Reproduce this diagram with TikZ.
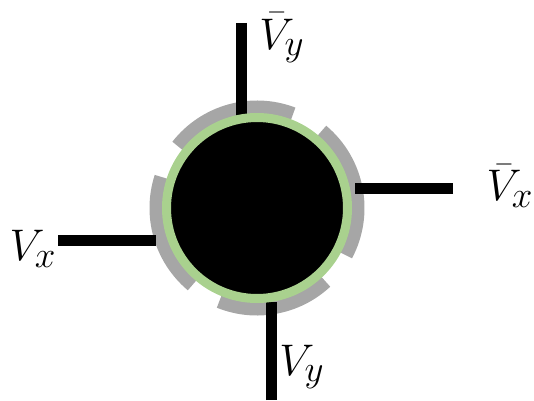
\documentclass[tikz,border=0pt]{standalone}
\usepackage{amsmath}
\usepackage{graphicx}
\usetikzlibrary{calc}
\newcommand{\biglbl}[1]{\scalebox{1.78}{\Huge$#1$}}
\begin{document}
\begin{tikzpicture}[x=1pt,y=1pt,
  lbl/.style={inner sep=0pt},
  wire/.style={line width=11pt, black},
  shell/.style={line width=13pt, draw=gray!70}]
\useasboundingbox (0,0) rectangle (534,400);
\coordinate (c) at (257,192);
% gray shell segments
\draw[shell] ($(c)+(69:101)$) arc[start angle=69, end angle=142, radius=101];
\draw[shell] ($(c)+(-28:101)$) arc[start angle=-28, end angle=50, radius=101];
\draw[shell] ($(c)+(-112:101)$) arc[start angle=-112, end angle=-47, radius=101];
\draw[shell] ($(c)+(162:101)$) arc[start angle=162, end angle=230, radius=101];
% wires
\coordinate (t1) at (241,377); \coordinate (t2) at (241,280);
\coordinate (r1) at (453,212); \coordinate (r2) at (355,212);
\coordinate (l1) at (58,160);  \coordinate (l2) at (156,160);
\coordinate (b1) at (271,0);   \coordinate (b2) at (271,98);
\draw[wire] (t1) -- (t2);
\draw[wire] (r1) -- (r2);
\draw[wire] (l1) -- (l2);
\draw[wire] (b1) -- (b2);
% sphere
\node[circle, fill=black, draw={rgb,255:red,169;green,209;blue,142}, line width=9pt,
      minimum size=181pt, inner sep=0pt] (sph) at (c) {};
% labels
\node[lbl] (vyb) at (282,362) {\biglbl{\bar{V}_y}};
\node[lbl] (vxb) at (510,214) {\biglbl{\bar{V}_x}};
\node[lbl] (vx) at (33,151) {\biglbl{V_x}};
\node[lbl] (vy) at (302,33) {\biglbl{V_y}};
\end{tikzpicture}
\end{document}
